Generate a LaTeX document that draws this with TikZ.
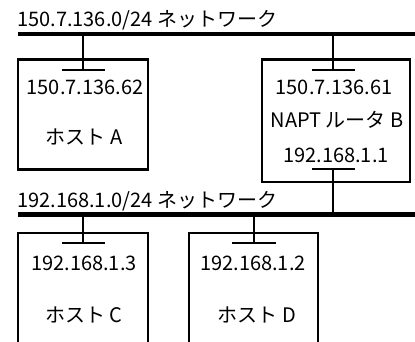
\documentclass[tikz,border=0pt]{standalone}
\usepackage{fontspec}
\setmainfont{Noto Sans CJK JP}
\tikzstyle{host}=[draw,line width=2.5pt,inner sep=0pt]
\tikzstyle{bus} = [draw,line width=4.5pt,-]
\tikzstyle{edge} = [draw,line width=2.5pt,-]
\tikzstyle{addr}=[inner sep=0pt,anchor=base,font=\fontsize{20}{24}\selectfont]

\begin{document}
\begin{tikzpicture}[x=1pt,y=-1pt]
    % networks
    \node[addr,anchor=base west] (netA) at (17,27) {150.7.136.0/24 ネットワーク};
    \node[addr,anchor=base west] (netB) at (17,207) {192.168.1.0/24 ネットワーク};
    \coordinate (busAl) at (18,34);
    \coordinate (busAr) at (415,34);
    \coordinate (busBl) at (18,214.5);
    \coordinate (busBr) at (415,214.5);
    \path[bus] (busAl) -- (busAr);
    \path[bus] (busBl) -- (busBr);

    % hosts
    \node[host,minimum width=130,minimum height=110] (hostA) at (83,114.5) {};
    \node[host,minimum width=148,minimum height=122.5] (routerB) at (336,120.75) {};
    \node[host,minimum width=130,minimum height=137] (hostC) at (83,301.5) {};
    \node[host,minimum width=129,minimum height=137] (hostD) at (253.5,301.5) {};

    \node[addr] (ipA) at (85,95) {150.7.136.62};
    \node[addr] (nameA) at (84,145) {ホスト A};
    \node[addr] (ipB1) at (334,95) {150.7.136.61};
    \node[addr] (nameB) at (337,128) {NAPT ルータ B};
    \node[addr] (ipB2) at (336,162) {192.168.1.1};
    \node[addr] (ipC) at (84,270) {192.168.1.3};
    \node[addr] (nameC) at (84,322) {ホスト C};
    \node[addr] (ipD) at (253,270) {192.168.1.2};
    \node[addr] (nameD) at (257,322) {ホスト D};

    % interfaces
    \coordinate (tapA) at (83,34);   \coordinate (nicA) at (83,70);
    \coordinate (nicAl) at (62,70);  \coordinate (nicAr) at (105,70);
    \coordinate (tapB1) at (333,34); \coordinate (nicB1) at (333,70);
    \coordinate (nicB1l) at (312,70); \coordinate (nicB1r) at (355,70);
    \coordinate (tapB2) at (333,214.5); \coordinate (nicB2) at (333,169);
    \coordinate (nicB2l) at (312,169); \coordinate (nicB2r) at (355,169);
    \coordinate (tapC) at (83,214.5); \coordinate (nicC) at (83,243);
    \coordinate (nicCl) at (62,243); \coordinate (nicCr) at (105,243);
    \coordinate (tapD) at (254,214.5); \coordinate (nicD) at (254,243);
    \coordinate (nicDl) at (232,243); \coordinate (nicDr) at (276,243);

    \path[edge] (tapA) -- (nicA);
    \path[edge] (nicAl) -- (nicAr);
    \path[edge] (tapB1) -- (nicB1);
    \path[edge] (nicB1l) -- (nicB1r);
    \path[edge] (tapB2) -- (nicB2);
    \path[edge] (nicB2l) -- (nicB2r);
    \path[edge] (tapC) -- (nicC);
    \path[edge] (nicCl) -- (nicCr);
    \path[edge] (tapD) -- (nicD);
    \path[edge] (nicDl) -- (nicDr);

    \pgfresetboundingbox
    \path [use as bounding box] (0,0) rectangle (415,342);
\end{tikzpicture}
\end{document}
